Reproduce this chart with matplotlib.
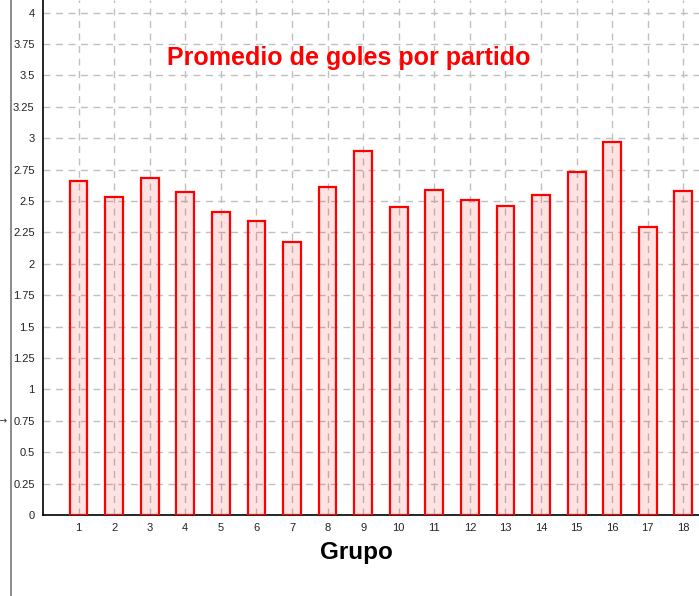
import matplotlib
matplotlib.use("Agg")
import matplotlib.pyplot as plt
from matplotlib.lines import Line2D

grupos = list(range(1, 19))
promedio = [2.66, 2.53, 2.68, 2.57, 2.41, 2.34, 2.17, 2.61, 2.90,
            2.45, 2.59, 2.51, 2.46, 2.55, 2.73, 2.97, 2.29, 2.58]
yticks = [0, 0.25, 0.5, 0.75, 1, 1.25, 1.5, 1.75, 2, 2.25, 2.5, 2.75, 3, 3.25, 3.5, 3.75, 4]
ytick_labels = ["0", "0.25", "0.5", "0.75", "1", "1.25", "1.5", "1.75", "2",
                "2.25", "2.5", "2.75", "3", "3.25", "3.5", "3.75", "4"]

plt.rcParams["font.family"] = ["Liberation Sans", "DejaVu Sans"]

W, H = 699, 596
fig = plt.figure(figsize=(W / 100, H / 100), dpi=100)
ax = fig.add_axes([43 / W, (H - 515) / H, (W - 43) / W, 515 / H])

ax.bar(grupos, promedio, width=0.5, facecolor=(1, 0, 0, 0.11),
       edgecolor="#ff0000", linewidth=1.6, zorder=3)

ax.set_xlim(0, 18.44)
ax.set_ylim(0, 4.1)
ax.set_xticks(grupos)
ax.set_xticklabels([str(g) for g in grupos])
ax.set_yticks(yticks)
ax.set_yticklabels(ytick_labels)
ax.tick_params(axis="both", length=0, labelsize=8, colors="#222222", pad=6)

ax.grid(True, color="#c0c0c0", linestyle=(0, (5, 4)), linewidth=1, zorder=1)
ax.set_axisbelow(True)

for side in ["top", "right"]:
    ax.spines[side].set_visible(False)
ax.spines["left"].set_linewidth(1.2)
ax.spines["bottom"].set_linewidth(1.2)
ax.spines["left"].set_color("black")
ax.spines["bottom"].set_color("black")

fig.text(349 / W, 1 - 58 / H, "Promedio de goles por partido", color="#ff0000",
         fontsize=18, fontweight="bold", ha="center", va="center")
fig.text(356 / W, 1 - 552 / H, "Grupo", color="black",
         fontsize=17.5, fontweight="bold", ha="center", va="center")

# panel border on the left
fig.add_artist(Line2D([11 / W, 11 / W], [0, 1], color="#777777", linewidth=1.2))
fig.text(3 / W, 1 - 421 / H, "→", fontsize=7, color="#333333", ha="center", va="center",
         family=["DejaVu Sans"])

fig.savefig("out.png", dpi=100)
